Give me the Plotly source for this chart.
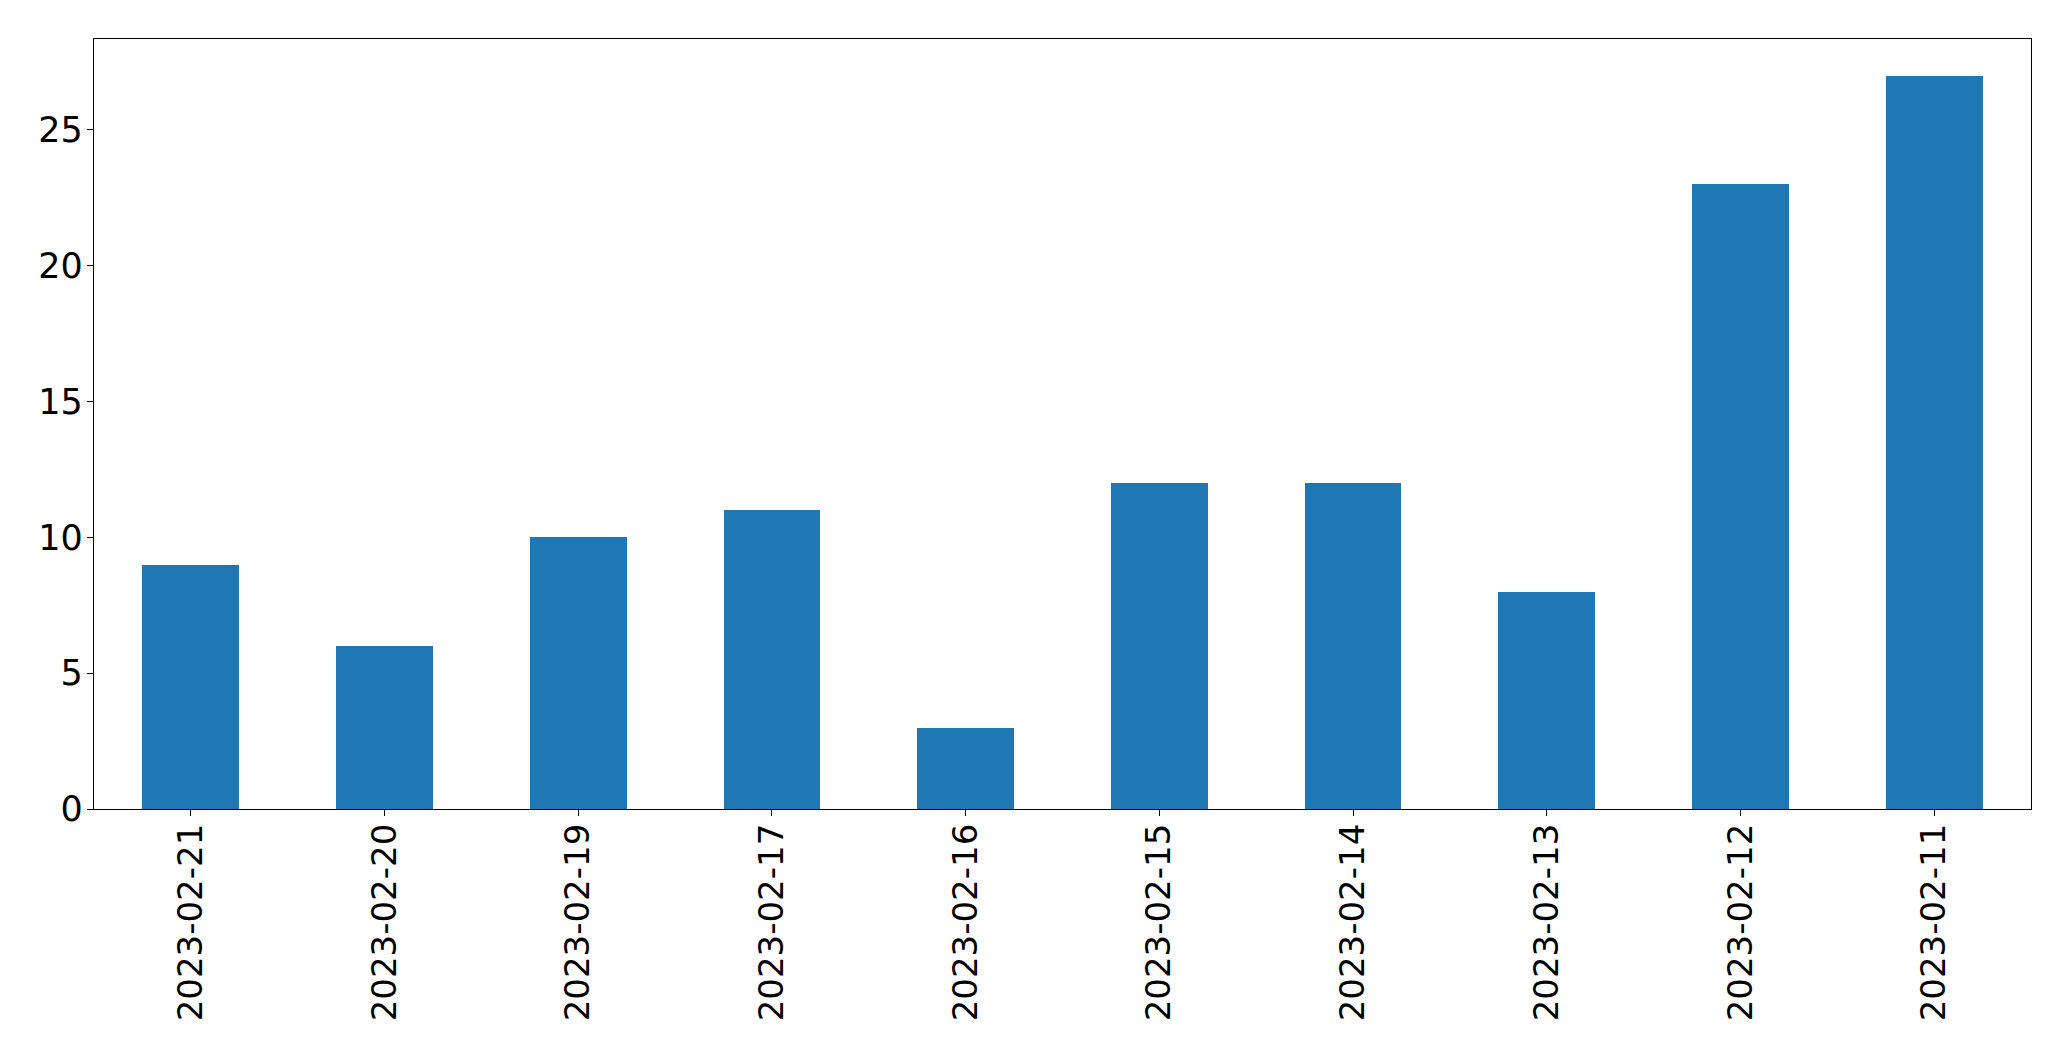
import plotly.graph_objects as go

dates = ["2023-02-21", "2023-02-20", "2023-02-19", "2023-02-17", "2023-02-16",
         "2023-02-15", "2023-02-14", "2023-02-13", "2023-02-12", "2023-02-11"]
counts = [9, 6, 10, 11, 3, 12, 12, 8, 23, 27]
y_ticks = [0, 5, 10, 15, 20, 25]

fig = go.Figure(go.Bar(x=dates, y=counts, width=0.5, marker_color="#1f77b4",
                       marker_line_width=0))

font = dict(family="DejaVu Sans", size=35, color="black")
xfont = dict(family="DejaVu Sans", size=34, color="black")
fig.update_layout(
    width=2071, height=1061, autosize=False,
    margin=dict(l=94, r=40, t=39, b=252, pad=0),
    plot_bgcolor="white", paper_bgcolor="white",
    showlegend=False, bargap=0,
    font=font,
)
fig.update_xaxes(type="category", range=[-0.5, 9.5], tickangle=-90,
                 showline=True, linecolor="black", linewidth=1.3, mirror=True,
                 ticks="outside", ticklen=6, tickwidth=1.3, tickcolor="black",
                 showgrid=False, zeroline=False, tickfont=xfont,
                 ticklabelstandoff=-6)
fig.update_yaxes(range=[0, 28.35], tickvals=y_ticks,
                 showline=True, linecolor="black", linewidth=1.3, mirror=True,
                 ticks="outside", ticklen=6, tickwidth=1.3, tickcolor="black",
                 showgrid=False, zeroline=False, tickfont=font,
                 ticklabelstandoff=-3)

fig.write_html("out.html")
